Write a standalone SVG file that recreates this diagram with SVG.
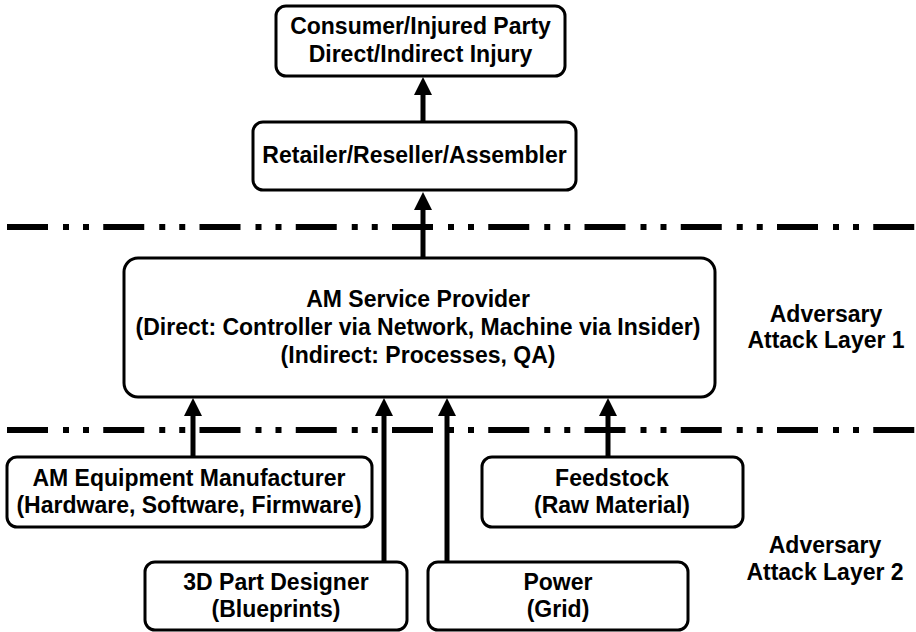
<svg xmlns="http://www.w3.org/2000/svg" width="916" height="632" viewBox="0 0 916 632">
<style>
.box{fill:#fff;stroke:#000;stroke-width:3}
.t{font-family:"Liberation Sans",Arial,sans-serif;font-weight:bold;font-size:23px;fill:#000;text-anchor:middle}
.sep{stroke:#000;stroke-width:6;fill:none;stroke-dasharray:41 15 6 14 6 14.25}
.arr{stroke:#000;stroke-width:5;fill:none}
</style>
<defs>
<marker id="ah" markerUnits="userSpaceOnUse" markerWidth="20" markerHeight="20" viewBox="0 -10 20 20" refX="0" refY="0" orient="auto">
<path d="M0,-9 L18,0 L0,9 Z" fill="#000"/>
</marker>
</defs>
<g id="separators">
<line class="sep" x1="7" y1="227" x2="916" y2="227"/>
<line class="sep" x1="7" y1="430" x2="916" y2="430"/>
</g>
<g id="consumer">
<rect class="box" x="276" y="6" width="289" height="70" rx="10"/>
<text class="t" x="420.5" y="34">Consumer/Injured Party</text>
<text class="t" x="420.5" y="62">Direct/Indirect Injury</text>
</g>
<g id="retailer">
<rect class="box" x="253" y="122" width="323" height="68" rx="10"/>
<text class="t" x="414.5" y="163">Retailer/Reseller/Assembler</text>
</g>
<g id="am-service">
<rect class="box" x="124" y="258" width="591" height="139" rx="14"/>
<text class="t" x="418" y="307">AM Service Provider</text>
<text class="t" x="418" y="335">(Direct: Controller via Network, Machine via Insider)</text>
<text class="t" x="418" y="363">(Indirect: Processes, QA)</text>
</g>
<g id="layer1">
<text class="t" x="826" y="322">Adversary</text>
<text class="t" x="826" y="348">Attack Layer 1</text>
</g>
<g id="am-equipment">
<rect class="box" x="7" y="457" width="365" height="70" rx="10"/>
<text class="t" x="189" y="486">AM Equipment Manufacturer</text>
<text class="t" x="189" y="513">(Hardware, Software, Firmware)</text>
</g>
<g id="feedstock">
<rect class="box" x="482" y="457" width="261" height="70" rx="10"/>
<text class="t" x="612" y="486">Feedstock</text>
<text class="t" x="612" y="513">(Raw Material)</text>
</g>
<g id="designer">
<rect class="box" x="145" y="562" width="262" height="68" rx="10"/>
<text class="t" x="276" y="590">3D Part Designer</text>
<text class="t" x="276" y="617">(Blueprints)</text>
</g>
<g id="power">
<rect class="box" x="428" y="562" width="260" height="68" rx="10"/>
<text class="t" x="558" y="590">Power</text>
<text class="t" x="558" y="617">(Grid)</text>
</g>
<g id="layer2">
<text class="t" x="825" y="553">Adversary</text>
<text class="t" x="825" y="580">Attack Layer 2</text>
</g>
<g id="connectors">
<line class="arr" x1="423" y1="122" x2="423" y2="95" marker-end="url(#ah)"/>
<line class="arr" x1="423" y1="257" x2="423" y2="210" marker-end="url(#ah)"/>
<line class="arr" x1="193" y1="457" x2="193" y2="416" marker-end="url(#ah)"/>
<line class="arr" x1="384" y1="562" x2="384" y2="416" marker-end="url(#ah)"/>
<line class="arr" x1="447" y1="562" x2="447" y2="416" marker-end="url(#ah)"/>
<line class="arr" x1="608" y1="457" x2="608" y2="416" marker-end="url(#ah)"/>
</g>
</svg>
